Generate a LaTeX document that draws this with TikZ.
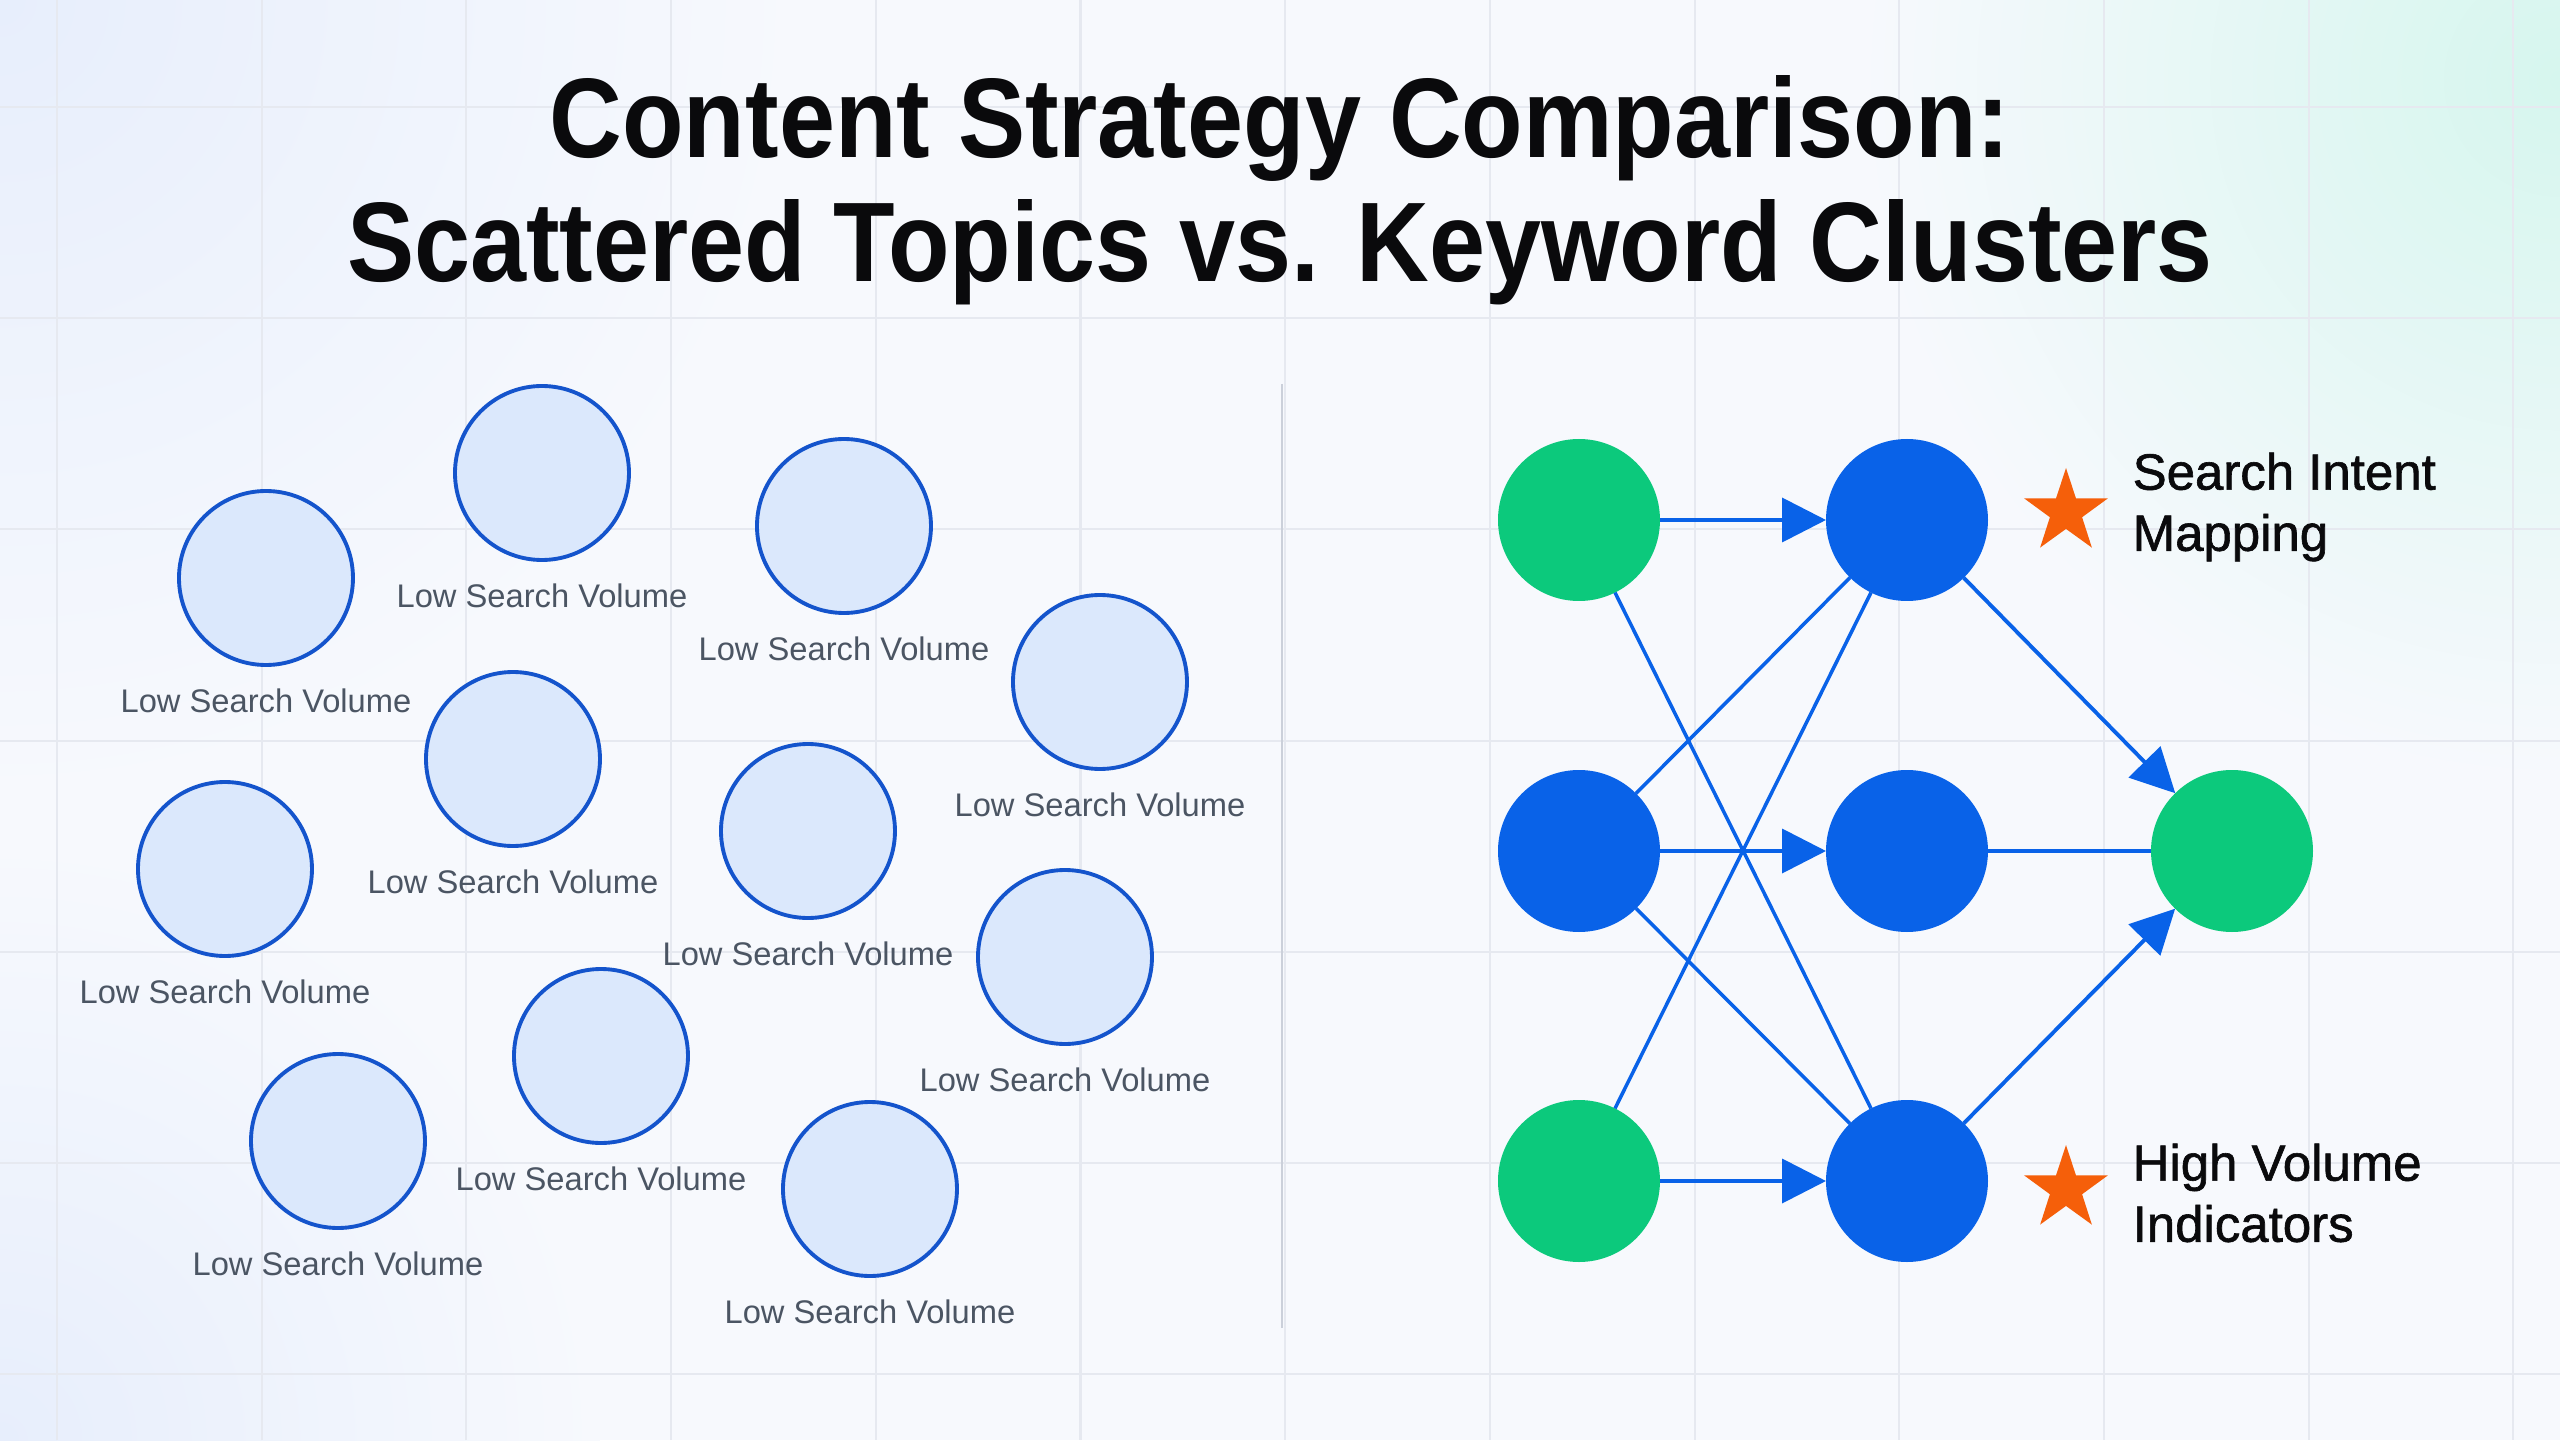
\documentclass[tikz,border=0pt]{standalone}
\usepackage{fontspec}
\setmainfont{Liberation Sans}
\newfontfamily\titlefont[FakeStretch=0.89]{Liberation Sans}
\newfontfamily\keyfont[FakeBold=1.2]{Liberation Sans}
\usepackage{tikz}
\usetikzlibrary{arrows.meta,positioning,shapes.geometric}
\definecolor{pageBg}{RGB}{247,249,253}
\definecolor{pageBlue}{RGB}{231,238,252}
\definecolor{pageMint}{RGB}{214,246,238}
\definecolor{gridGray}{RGB}{230,233,240}
\definecolor{topicFill}{RGB}{219,232,252}
\definecolor{topicLine}{RGB}{20,84,204}
\definecolor{labelGray}{RGB}{75,85,99}
\definecolor{dividerGray}{RGB}{203,208,218}
\definecolor{clusterBlue}{RGB}{9,98,232}
\definecolor{clusterGreen}{RGB}{12,201,124}
\definecolor{starOrange}{RGB}{245,95,10}
\definecolor{titleBlack}{RGB}{10,10,12}

\begin{document}
\begin{tikzpicture}[
  topic/.style={circle, fill=topicFill, draw=topicLine, line width=1.1pt, minimum size=1.74cm, inner sep=0pt},
  topiclabel/.style={text=labelGray, font=\fontsize{9.3}{11}\selectfont, inner sep=0pt},
  greennode/.style={circle, fill=clusterGreen, minimum size=1.62cm, inner sep=0pt, outer sep=0pt},
  bluenode/.style={circle, fill=clusterBlue, minimum size=1.62cm, inner sep=0pt, outer sep=0pt},
  flow/.style={draw=clusterBlue, line width=1.1pt, -{Triangle[length=12.5pt,width=12.5pt]}},
  link/.style={draw=clusterBlue, line width=1pt},
  marker/.style={star, star points=5, star point ratio=2.6, fill=starOrange, minimum size=0.88cm, inner sep=0pt},
  keytext/.style={align=left, inner sep=0pt, text=titleBlack, font=\keyfont\fontsize{14.5}{17.4}\selectfont},
  headline/.style={anchor=base, inner sep=0pt, text=titleBlack, font=\titlefont\bfseries\fontsize{32.2}{38}\selectfont}
]
\useasboundingbox (-12.8,-7.2) rectangle (12.8,7.2);

% background
\fill[pageBg] (-12.8,-7.2) rectangle (12.8,7.2);
\begin{scope}
\clip (-12.8,-7.2) rectangle (12.8,7.2);
\shade[inner color=pageBlue, outer color=pageBg] (-12.8,7.2) circle (8);
\shade[inner color=pageMint, outer color=pageBg] (12.8,6.4) circle (7);
\shade[inner color=pageBlue, outer color=pageBg] (-12.8,-7.2) circle (6);
\end{scope}
\foreach \i in {0,...,12} {
  \draw[gridGray, line width=0.6pt] ({-12.23+2.047*\i},-7.2) -- ({-12.23+2.047*\i},7.2);
}
\foreach \i in {0,...,6} {
  \draw[gridGray, line width=0.6pt] (-12.8,{6.13-2.112*\i}) -- (12.8,{6.13-2.112*\i});
}

% title
\node[headline] (title1) at (0,5.62) {Content Strategy Comparison:};
\node[headline] (title2) at (0,4.38) {Scattered Topics vs. Keyword Clusters};

% divider
\draw[dividerGray, line width=0.85pt] (0.02,3.36) -- (0.02,-6.08);

% scattered topics
\foreach \n/\x/\y in {1/-7.38/2.47, 2/-10.14/1.42, 3/-4.36/1.94, 4/-1.80/0.38,
  5/-7.67/-0.39, 6/-10.55/-1.49, 7/-4.72/-1.11, 8/-2.15/-2.37,
  9/-6.79/-3.36, 10/-9.42/-4.21, 11/-4.10/-4.69} {
  \node[topic] (topic\n) at (\x,\y) {};
  \node[topiclabel, below=0.21cm of topic\n] (topiclabel\n) {Low Search Volume};
}

% keyword cluster network
\node[greennode] (kw1) at (2.99,2.00) {};
\node[bluenode] (kw2) at (2.99,-1.31) {};
\node[greennode] (kw3) at (2.99,-4.61) {};
\node[bluenode] (cl1) at (6.27,2.00) {};
\node[bluenode] (cl2) at (6.27,-1.31) {};
\node[bluenode] (cl3) at (6.27,-4.61) {};
\node[greennode] (hub) at (9.52,-1.31) {};

\draw[link] (kw1) -- (cl3);
\draw[link] (kw2) -- (cl1);
\draw[link] (kw3) -- (cl1);
\draw[link] (kw2) -- (cl3);
\draw[link] (cl2) -- (hub);
\draw[flow] (kw1) -- (cl1);
\draw[flow] (kw2) -- (cl2);
\draw[flow] (kw3) -- (cl3);
\draw[flow] (cl1) -- (hub);
\draw[flow] (cl3) -- (hub);

% markers
\node[marker] (star1) at (7.86,2.08) {};
\node[keytext, anchor=north west] (key1) at (8.52,2.68) {Search Intent\\Mapping};
\node[marker] (star2) at (7.86,-4.69) {};
\node[keytext, anchor=north west] (key2) at (8.52,-4.23) {High Volume\\Indicators};
\end{tikzpicture}
\end{document}
